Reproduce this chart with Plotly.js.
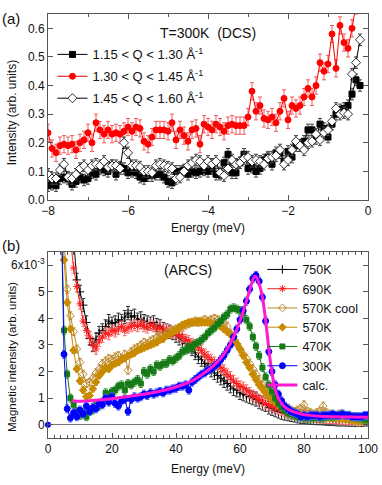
<!DOCTYPE html>
<html><head><meta charset="utf-8">
<script src="https://cdn.plot.ly/plotly-3.0.1.min.js"></script>
<style>html,body{margin:0;padding:0;background:#fff}#c{width:382px;height:485px}</style>
</head><body><div id="c"></div>
<script>
// ---------- Panel (a): DCS, T=300K ----------
const eA = [-8.0,-7.9,-7.8,-7.7,-7.6,-7.5,-7.4,-7.3,-7.2,-7.1,
  -7.0,-6.9,-6.8,-6.7,-6.6,-6.5,-6.4,-6.3,-6.2,-6.1,
  -6.0,-5.9,-5.8,-5.7,-5.6,-5.5,-5.4,-5.3,-5.2,-5.1,
  -5.0,-4.9,-4.8,-4.7,-4.6,-4.5,-4.4,-4.3,-4.2,-4.1,
  -4.0,-3.9,-3.8,-3.7,-3.6,-3.5,-3.4,-3.3,-3.2,-3.1,
  -3.0,-2.9,-2.8,-2.7,-2.6,-2.5,-2.4,-2.3,-2.2,-2.1,
  -2.0,-1.9,-1.8,-1.7,-1.6,-1.5,-1.4,-1.3,-1.2,-1.1,
  -1.0,-0.9,-0.8,-0.7,-0.6,-0.5,-0.4,-0.3,-0.2];
const qLow = [0.05,0.055,0.05,0.075,0.08,0.075,0.055,0.065,0.08,0.07,
  0.075,0.095,0.09,0.11,0.105,0.1,0.12,0.09,0.115,0.11,
  0.095,0.1,0.095,0.08,0.075,0.085,0.085,0.09,0.09,0.08,
  0.065,0.06,0.1,0.1,0.105,0.09,0.1,0.095,0.1,0.105,
  0.1,0.11,0.09,0.09,0.13,0.16,0.095,0.095,0.13,0.16,
  0.11,0.115,0.1,0.11,0.14,0.15,0.125,0.165,0.165,0.135,
  0.17,0.15,0.19,0.19,0.205,0.245,0.245,0.215,0.265,0.25,
  0.22,0.265,0.3,0.315,0.32,0.33,0.37,0.42,0.40];
const qMid = [0.235,0.18,0.165,0.19,0.195,0.19,0.195,0.175,0.2,0.21,
  0.235,0.2,0.27,0.245,0.23,0.245,0.23,0.235,0.23,0.24,
  0.255,0.24,0.255,0.25,0.205,0.195,0.22,0.245,0.245,0.245,
  0.24,0.27,0.21,0.245,0.225,0.205,0.245,0.25,0.195,0.265,
  0.255,0.245,0.265,0.255,0.24,0.26,0.265,0.26,0.26,0.26,
  0.29,0.38,0.31,0.33,0.285,0.28,0.29,0.27,0.31,0.355,
  0.28,0.33,0.32,0.33,0.36,0.39,0.36,0.40,0.48,0.45,
  0.475,0.58,0.46,0.61,0.55,0.53,0.6,0.68,null];
const qHigh = [0.09,0.075,0.075,0.105,0.125,0.08,0.075,0.09,0.11,0.12,
  0.105,0.12,0.125,0.12,0.135,0.115,0.12,0.12,0.11,0.2,
  0.165,0.12,0.12,0.115,0.1,0.1,0.095,0.12,0.125,0.12,
  0.115,0.11,0.075,0.08,0.1,0.12,0.13,0.14,0.135,0.12,
  0.135,0.125,0.135,0.095,0.085,0.11,0.14,0.125,0.13,0.145,
  0.15,0.135,0.14,0.135,0.125,0.145,0.15,0.155,0.175,0.125,
  0.14,0.175,0.205,0.19,0.175,0.2,0.205,0.23,0.21,0.235,
  0.245,0.275,0.32,0.3,0.305,0.3,0.44,0.48,0.56];
const namesA = ['1.15 < Q < 1.30 Å<sup>-1</sup>','1.30 < Q < 1.45 Å<sup>-1</sup>','1.45 < Q < 1.60 Å<sup>-1</sup>'];
const errA = [0.02, 0.03, 0.02];
const yTicksA = [0,0.1,0.2,0.3,0.4,0.5,0.6];

// ---------- Panel (b): ARCS magnetic intensity (units of 1e-3) ----------
const eB = [4,5,6,7,8,9,10,11,12,13,
  14,15,16,17,18,19,20,21,22,23,
  24,25,26,27,28,29,30,31,32,33,
  34,35,36,37,38,39,40,41,42,43,
  44,45,46,47,48,49,50,51,52,53,
  54,55,56,57,58,59,60,61,62,63,
  64,65,66,67,68,69,70,71,72,73,
  74,75,76,77,78,79,80,81,82,83,
  84,85,86,87,88,89,90,91,92,93,
  94,95,96,97,98,99,100];
const t750 = [null,null,null,null,7.0,5.45,5.0,4.5,3.85,3.25,
  3.0,3.2,3.45,3.55,3.7,3.9,3.8,3.85,3.95,3.9,
  4.05,4.2,4.05,4.1,3.95,4.0,3.9,3.85,3.8,3.85,
  3.75,3.7,3.6,3.55,3.5,3.45,3.35,3.25,3.15,3.05,
  2.95,2.85,2.7,2.55,2.45,2.3,2.2,2.05,1.95,1.85,
  1.75,1.65,1.55,1.45,1.35,1.3,1.2,1.15,1.1,1.05,
  1.0,0.95,0.85,0.8,0.75,0.65,0.6,0.55,0.5,0.45,
  0.42,0.4,0.37,0.35,0.32,0.3,0.3,0.28,0.27,0.26,
  0.25,0.25,0.24,0.23,0.22,0.22,0.21,0.2,0.2,0.2,
  0.19,0.19,0.18,0.18,0.18,0.2,0.2];
const t690 = [null,null,null,7.0,5.9,5.2,4.55,3.9,3.55,3.3,
  3.0,2.85,3.15,3.3,3.45,3.4,3.55,3.5,3.6,3.7,
  3.55,3.65,3.7,3.75,3.7,3.8,3.7,3.65,3.75,3.7,
  3.6,3.65,3.55,3.6,3.5,3.45,3.45,3.35,3.3,3.2,
  3.15,3.05,3.0,2.9,2.8,2.65,2.55,2.45,2.35,2.25,
  2.15,2.05,1.9,1.8,1.65,1.55,1.45,1.4,1.3,1.2,
  1.1,1.05,0.95,0.9,0.8,0.75,0.7,0.65,0.6,0.55,
  0.5,0.45,0.42,0.4,0.38,0.35,0.33,0.32,0.3,0.3,
  0.28,0.27,0.26,0.25,0.25,0.24,0.23,0.22,0.22,0.21,
  0.2,0.2,0.2,0.2,0.2,0.2,0.2];
const t570cool = [null,7.0,5.1,4.1,3.5,2.85,2.35,1.9,1.55,1.6,
  1.75,1.95,2.1,2.3,2.4,2.5,2.45,2.55,2.6,2.5,
  2.65,2.05,2.75,2.85,2.9,3.0,3.1,3.05,3.15,3.2,
  3.3,3.4,3.25,3.45,3.5,3.55,3.6,3.65,3.7,3.75,
  3.8,3.85,3.9,3.85,3.9,3.95,3.9,3.95,4.0,3.95,
  3.9,3.85,3.7,3.45,3.3,3.05,2.85,2.65,2.5,2.3,
  2.1,1.9,1.7,1.5,1.35,1.2,1.05,0.95,0.85,0.75,
  0.68,0.62,0.55,0.5,0.55,0.6,0.75,0.5,0.45,0.4,
  0.45,0.5,0.7,0.45,0.4,0.35,0.35,0.4,0.3,0.3,
  0.25,0.2,0.15,0.1,0.15,0.2,0.25];
const t570 = [9.0,6.2,4.6,3.6,2.8,2.1,1.65,1.3,1.05,1.1,
  1.35,1.6,1.85,2.0,2.15,2.1,2.25,2.3,2.35,2.45,
  2.5,2.6,2.65,2.7,2.8,2.85,2.9,2.95,3.0,3.05,
  3.1,3.2,3.25,3.35,3.4,3.5,3.55,3.65,3.75,3.8,
  3.85,3.85,3.85,3.9,3.85,3.85,3.85,3.8,3.8,3.75,
  3.7,3.6,3.5,3.4,3.2,3.05,2.85,2.6,2.35,2.15,
  1.9,1.7,1.5,1.35,1.2,1.05,0.95,0.85,0.75,0.68,
  0.6,0.55,0.5,0.45,0.42,0.4,0.38,0.35,0.33,0.32,
  0.3,0.3,0.28,0.27,0.26,0.25,0.25,0.24,0.22,0.2,
  0.2,0.18,0.17,0.15,0.15,0.18,0.2];
const t470 = [9.0,3.55,1.9,1.0,0.75,0.5,0.35,0.45,0.3,0.5,
  0.55,0.75,0.7,0.85,1.2,1.1,1.25,1.3,1.45,1.5,
  1.3,1.55,1.5,1.6,1.7,1.55,2.0,1.9,2.1,2.0,
  2.25,2.2,2.3,2.3,2.45,2.4,2.5,2.6,2.75,2.8,
  2.95,2.85,3.05,3.1,3.2,3.3,3.45,3.55,3.65,3.8,
  3.9,4.05,4.15,4.35,4.4,4.35,4.3,4.2,3.95,3.7,
  3.3,2.95,2.6,2.15,1.8,1.5,1.25,1.0,0.8,0.65,
  0.55,0.45,0.4,0.35,0.3,0.3,0.25,0.25,0.25,0.25,
  0.3,0.25,0.25,0.3,0.3,0.3,0.35,0.35,0.4,0.35,
  0.35,0.3,0.3,0.25,0.25,0.2,0.2];
const t300 = [9.0,2.65,0.6,0.25,0.45,0.3,0.55,0.4,0.7,0.5,
  0.65,0.6,0.8,0.75,1.0,0.85,1.05,0.8,0.7,0.9,
  0.95,0.5,0.95,1.05,1.0,1.05,1.15,1.1,1.2,1.15,
  1.2,1.25,1.2,1.3,1.3,1.35,1.37,1.45,1.45,1.5,
  1.3,1.6,1.7,1.8,1.9,1.95,2.05,2.1,2.2,2.3,
  2.45,2.6,2.8,3.0,3.3,3.6,3.95,4.3,4.65,5.1,
  5.5,5.62,5.4,4.8,3.9,2.75,2.0,1.5,1.15,0.9,
  0.7,0.6,0.5,0.45,0.4,0.3,0.35,0.3,0.35,0.35,
  0.35,0.3,0.35,0.35,0.35,0.4,0.35,0.35,0.4,0.35,
  0.35,0.3,0.3,0.3,0.3,0.35,0.35];
const t300isoE = [0];
const t300isoY = [0];
const calcE = [7.5,10,15,20,25,30,35,40,45,50,52,54,56,58,60,61,62,63,64,64.5,65,66,67,68,69,70,71,72,73,74,76,78,80,85,90,95,100];
const calcY = [0.9,0.88,0.92,0.98,1.06,1.15,1.26,1.42,1.65,2.05,2.25,2.5,2.85,3.3,3.9,4.25,4.65,5.05,5.45,5.58,5.58,5.3,4.8,3.95,2.85,1.95,1.32,1.0,0.8,0.66,0.52,0.44,0.38,0.32,0.3,0.29,0.28];
const namesB = ['750K','690K','570K cool','570K','470K','300K','calc.'];
const errB = [0.25, 0.2, 0.15, 0.12, 0.15, 0.15];
const yTicksB = [0,1,2,3,4,5,6];
const yTickTextB = ['0','1','2','3','4','5','6x10<sup>-3</sup>'];

// ---------- traces ----------
function dataTrace(x, y, name, color, symbol, msize, mline, err, errColor, xa, ya, leg, mfill){
  return {x:x, y:y, name:name, type:'scatter', mode:'lines+markers',
    xaxis:xa, yaxis:ya, legend:leg, legendgroup:name, connectgaps:false,
    line:{color:color, width:1},
    marker:{symbol:symbol, size:msize, color:(mfill||color), line:{color:color, width:mline}},
    error_y:{type:'constant', value:err, color:errColor, thickness:1, width:2}};
}
const traces = [
  dataTrace(eA, qLow, namesA[0], '#000000', 'square', 6, 1, errA[0], '#444444', 'x', 'y', 'legend'),
  dataTrace(eA, qMid, namesA[1], '#ff0000', 'circle', 6, 1, errA[1], '#f05a5a', 'x', 'y', 'legend'),
  dataTrace(eA, qHigh, namesA[2], '#000000', 'diamond', 7, 0.8, errA[2], '#444444', 'x', 'y', 'legend', '#ffffff'),
  dataTrace(eB, t750, namesB[0], '#000000', 'cross-thin', 6, 1, errB[0], '#333333', 'x2', 'y2', 'legend2'),
  dataTrace(eB, t690, namesB[1], '#ff1a1a', 'asterisk-open', 6, 1, errB[1], '#ff6a6a', 'x2', 'y2', 'legend2'),
  dataTrace(eB, t570cool, namesB[2], '#b8862e', 'diamond-open', 6, 1, errB[2], '#d0a050', 'x2', 'y2', 'legend2'),
  dataTrace(eB, t570, namesB[3], '#c98a00', 'diamond', 6, 1, errB[3], '#d9a22a', 'x2', 'y2', 'legend2'),
  dataTrace(eB, t470, namesB[4], '#167a16', 'square', 5, 1, errB[4], '#3c9a3c', 'x2', 'y2', 'legend2'),
  dataTrace(eB, t300, namesB[5], '#0000ff', 'circle', 6, 1, errB[5], '#5060ff', 'x2', 'y2', 'legend2'),
  {x:t300isoE, y:t300isoY, type:'scatter', mode:'markers', xaxis:'x2', yaxis:'y2', showlegend:false,
    marker:{symbol:'circle', size:6, color:'#0000ff'}, cliponaxis:false},
  {x:calcE, y:calcY, name:namesB[6], type:'scatter', mode:'lines', xaxis:'x2', yaxis:'y2', legend:'legend2',
    line:{color:'#ff19d0', width:3, shape:'spline', smoothing:0.6}}
];

const axBase = {showline:true, linecolor:'#555', linewidth:1, mirror:'allticks', ticks:'inside', ticklen:5,
  tickcolor:'#555', showgrid:false, zeroline:false, tickfont:{size:12, color:'#111'}};
const F = 'Liberation Sans, Arial, Helvetica, sans-serif';

const layout = {
  width:382, height:485, paper_bgcolor:'#fff', plot_bgcolor:'#fff',
  margin:{l:48, r:14, t:14, b:47},
  font:{family:F, size:12, color:'#111'},
  xaxis: Object.assign({}, axBase, {domain:[0,1], anchor:'y', range:[-8,0], tick0:-8, dtick:2,
    minor:{dtick:1, ticks:'inside', ticklen:3, tickcolor:'#555', showgrid:false},
    title:{text:'Energy (meV)', font:{size:12}, standoff:6}}),
  yaxis: Object.assign({}, axBase, {domain:[0.5613,1], anchor:'x', range:[0,0.65], tickmode:'array',
    tickvals:yTicksA, tickformat:'.1f'}),
  xaxis2: Object.assign({}, axBase, {domain:[0,1], anchor:'y2', range:[0,100], tick0:0, dtick:20,
    minor:{dtick:2, ticks:'inside', ticklen:3, tickcolor:'#555', showgrid:false},
    title:{text:'Energy (meV)', font:{size:12}, standoff:9}}),
  yaxis2: Object.assign({}, axBase, {domain:[0,0.4387], anchor:'x2', range:[-0.5,6.5], tickmode:'array',
    tickvals:yTicksB, ticktext:yTickTextB, zeroline:true, zerolinecolor:'#777', zerolinewidth:1}),
  legend:{x:0.014, xanchor:'left', y:0.94, yanchor:'top', bgcolor:'rgba(0,0,0,0)',
    font:{size:13, family:F}, tracegroupgap:2, itemwidth:30},
  legend2:{x:0.67, xanchor:'left', y:0.432, yanchor:'top', bgcolor:'rgba(0,0,0,0)',
    font:{size:12.5, family:F}, tracegroupgap:0, itemwidth:30},
  annotations:[
    {text:'(a)', xref:'paper', yref:'paper', x:-0.15, y:0.99, xanchor:'left', yanchor:'middle', showarrow:false, font:{size:15}},
    {text:'(b)', xref:'paper', yref:'paper', x:-0.15, y:0.455, xanchor:'left', yanchor:'middle', showarrow:false, font:{size:15}},
    {text:'T=300K  (DCS)', xref:'paper', yref:'paper', x:0.5, y:0.955, xanchor:'center', yanchor:'middle', showarrow:false, font:{size:14}},
    {text:'(ARCS)', xref:'paper', yref:'paper', x:0.436, y:0.396, xanchor:'center', yanchor:'middle', showarrow:false, font:{size:14}},
    {text:'Intensity (arb. units)', xref:'paper', yref:'paper', x:-0.1125, y:0.766, xanchor:'center', yanchor:'middle',
      textangle:-90, showarrow:false, font:{size:12}},
    {text:'Magnetic intensity (arb. units)', xref:'paper', yref:'paper', x:-0.1125, y:0.191, xanchor:'center', yanchor:'middle',
      textangle:-90, showarrow:false, font:{size:11.5}}
  ]
};
Plotly.newPlot('c', traces, layout, {displayModeBar:false, staticPlot:true});
</script></body></html>
